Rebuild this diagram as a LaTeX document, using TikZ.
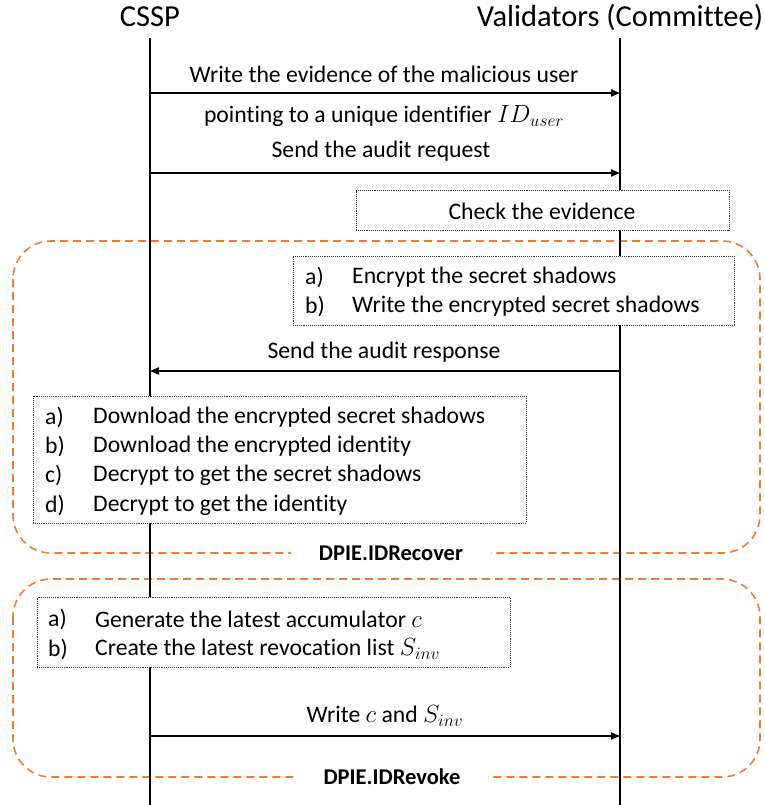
\documentclass[tikz,border=0pt]{standalone}
\usepackage{fontspec}
\setmainfont{Carlito}[Ligatures=NoCommon]
\usetikzlibrary{arrows.meta}
\definecolor{regionorange}{RGB}{237,125,49}
\tikzset{
  lifeline/.style={line width=2pt, black},
  msg/.style={line width=2pt, -{Triangle[length=9pt,width=7pt]}},
  msglabel/.style={font=\fontsize{23.7}{28}\selectfont, inner sep=0pt},
  title/.style={font=\fontsize{30.5}{36}\selectfont, inner sep=0pt},
  stepbox/.style={draw=black!80, densely dotted, line width=0.9pt, fill=white},
  region/.style={draw=regionorange, dashed, dash pattern=on 8pt off 5pt, line width=1.6pt, rounded corners=38pt},
  regionlabel/.style={font=\fontsize{22.5}{26}\selectfont\bfseries, fill=white, inner xsep=28pt, inner ysep=4pt},
  itemtext/.style={font=\fontsize{23.7}{28}\selectfont, anchor=west, inner sep=0pt},
}
\begin{document}
\begin{tikzpicture}[x=1pt,y=-1pt]
\useasboundingbox (0,0) rectangle (764,805);

% participants
\node[title] (cssp) at (150,17) {CSSP};
\node[title] (val) at (620,17) {Validators (Committee)};
\coordinate (csspTop) at (150,38);
\coordinate (csspEnd) at (150,805);
\coordinate (valTop) at (620,38);
\coordinate (valEnd) at (620,805);

% grouping regions
\draw[region] (13,241) rectangle (760,553);
\draw[region] (13,579) rectangle (760,777);

% lifelines
\draw[lifeline] (csspTop) -- (csspEnd);
\draw[lifeline] (valTop) -- (valEnd);

% region labels
\node[regionlabel] (recover) at (391,553) {DPIE.IDRecover};
\node[regionlabel] (revoke) at (392,777) {DPIE.IDRevoke};

% messages
\coordinate (m1a) at (150,93);  \coordinate (m1b) at (620,93);
\draw[msg] (m1a) -- (m1b);
\node[msglabel] (l1a) at (384,74) {Write the evidence of the malicious user};
\node[msglabel] (l1b) at (384,116) {pointing to a unique identifier $ID_{user}$};

\coordinate (m2a) at (150,173); \coordinate (m2b) at (620,173);
\draw[msg] (m2a) -- (m2b);
\node[msglabel] (l2) at (381,151) {Send the audit request};

% validator checks
\node[stepbox, minimum width=373pt, minimum height=40pt] (check) at (542.5,210) {};
\node[msglabel] (checkt) at (542,211) {Check the evidence};

\node[stepbox, minimum width=441pt, minimum height=69pt] (enc) at (513.5,290.5) {};
\node[itemtext] (enca) at (305,277) {a)};
\node[itemtext] (encat) at (352,277) {Encrypt the secret shadows};
\node[itemtext] (encb) at (305,306) {b)};
\node[itemtext] (encbt) at (352,306) {Write the encrypted secret shadows};

\coordinate (m3a) at (620,371); \coordinate (m3b) at (150,371);
\draw[msg] (m3a) -- (m3b);
\node[msglabel] (l3) at (384,352) {Send the audit response};

% CSSP recovers the identity
\node[stepbox, minimum width=493pt, minimum height=127pt] (dl) at (279.5,459.5) {};
\node[itemtext] (dla) at (45,417) {a)};
\node[itemtext] (dlat) at (93,417) {Download the encrypted secret shadows};
\node[itemtext] (dlb) at (45,446) {b)};
\node[itemtext] (dlbt) at (93,446) {Download the encrypted identity};
\node[itemtext] (dlc) at (45,475) {c)};
\node[itemtext] (dlct) at (93,475) {Decrypt to get the secret shadows};
\node[itemtext] (dld) at (45,505) {d)};
\node[itemtext] (dldt) at (93,505) {Decrypt to get the identity};

% CSSP revokes
\node[stepbox, minimum width=473pt, minimum height=70pt] (gen) at (273.5,632) {};
\node[itemtext] (gena) at (48,619) {a)};
\node[itemtext] (genat) at (95,619) {Generate the latest accumulator $c$};
\node[itemtext] (genb) at (48,649) {b)};
\node[itemtext] (genbt) at (95,649) {Create the latest revocation list $S_{inv}$};

\coordinate (m4a) at (150,736); \coordinate (m4b) at (620,736);
\draw[msg] (m4a) -- (m4b);
\node[msglabel] (l4) at (385,716) {Write $c$ and $S_{inv}$};
\end{tikzpicture}
\end{document}
